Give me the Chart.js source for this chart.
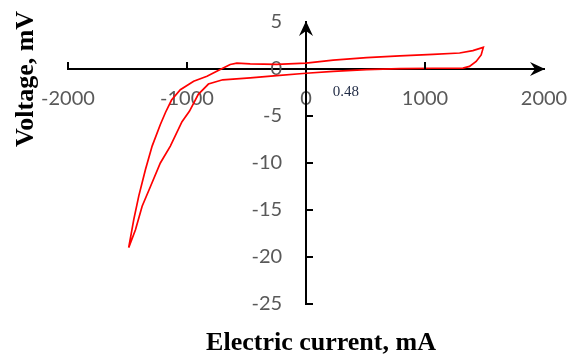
<!DOCTYPE html>
<html lang="en">
<head>
    <meta charset="UTF-8">
    <title>Voltage vs electric current</title>
    <script src="https://cdn.jsdelivr.net/npm/chart.js"></script>
    <style>
        body { margin: 0; background: #fff; }
        #loopChart { display: block; }
    </style>
    <script>
        // Loop, starting at the lower-left tip
        const currentMA = [
            -1490, -1447, -1405, -1349, -1293, -1224, -1180, -1130, -1056, -944,
            -832, -721, -637, -581, -469, -246, 0, 229, 509, 788,
            1067, 1291, 1402, 1490, 1472, 1430, 1374, 1319, 1067, 788,
            509, 229, 0, -246, -469, -700, -820, -905, -980, -1042,
            -1140, -1224, -1307, -1377, -1433, -1490
        ];
        const voltageMV = [
            -19, -16.0, -13.5, -10.7, -8.2, -5.9, -4.6, -3.3, -2.2, -1.3,
            -0.77, -0.05, 0.48, 0.62, 0.55, 0.5, 0.62, 0.95, 1.2, 1.4,
            1.55, 1.7, 1.95, 2.3, 1.5, 0.8, 0.28, 0.1, 0.08, 0.03,
            -0.07, -0.25, -0.45, -0.7, -0.95, -1.15, -1.6, -2.7, -4.5, -5.6,
            -8.2, -10.0, -12.5, -14.6, -17.1, -19
        ];
        const xTicks = [-2000, -1000, 0, 1000, 2000];
        const yTicks = [5, 0, -5, -10, -15, -20, -25];
        const note = { text: '0.48', x: 335, y: -2.9 };

        function arrowHead(ctx, x, y, dir) {
            // dir: 'right' or 'up'
            ctx.save();
            ctx.translate(x, y);
            if (dir === 'up') ctx.rotate(-Math.PI / 2);
            ctx.beginPath();
            ctx.moveTo(0, 0);
            ctx.lineTo(-15, -7);
            ctx.lineTo(-10, 0);
            ctx.lineTo(-15, 7);
            ctx.closePath();
            ctx.fillStyle = '#000';
            ctx.fill();
            ctx.restore();
        }

        const axisDecor = {
            id: 'axisDecor',
            afterDraw(chart) {
                const ctx = chart.ctx;
                const xs = chart.scales.x;
                const ys = chart.scales.y;
                const x0 = xs.getPixelForValue(0);
                const y0 = ys.getPixelForValue(0);

                ctx.save();
                ctx.strokeStyle = '#000';
                ctx.lineWidth = 2;
                ctx.beginPath();
                xTicks.slice(0, -1).forEach(v => {
                    if (v === 0) return;
                    const px = xs.getPixelForValue(v);
                    ctx.moveTo(px, y0);
                    ctx.lineTo(px, y0 - 7);
                });
                yTicks.slice(1).forEach(v => {
                    if (v === 0) return;
                    const py = ys.getPixelForValue(v);
                    ctx.moveTo(x0, py);
                    ctx.lineTo(x0 + 7, py);
                });
                ctx.stroke();

                arrowHead(ctx, xs.getPixelForValue(2000) + 1, y0, 'right');
                arrowHead(ctx, x0, ys.getPixelForValue(5) - 1, 'up');

                // annotation
                ctx.fillStyle = '#1f2a44';
                ctx.font = '15px "Liberation Serif"';
                ctx.textAlign = 'center';
                ctx.textBaseline = 'alphabetic';
                ctx.fillText(note.text, xs.getPixelForValue(note.x), ys.getPixelForValue(note.y));

                // axis titles
                ctx.fillStyle = '#000';
                ctx.font = 'bold 26px "Liberation Serif"';
                ctx.fillText('Electric current, mA', 321, 350);
                ctx.translate(33, 79);
                ctx.rotate(-Math.PI / 2);
                ctx.fillText('Voltage, mV', 0, 0);
                ctx.restore();
            }
        };

        const tickFont = { family: 'Lato', size: 20 };

        function createChart() {
            const ctx = document.getElementById('loopChart').getContext('2d');
            const points = currentMA.map((c, i) => ({ x: c, y: voltageMV[i] }));
            const yMin = yTicks[yTicks.length - 1];
            const yMax = yTicks[0];

            new Chart(ctx, {
                type: 'scatter',
                data: {
                    datasets: [{
                        data: points,
                        yAxisID: 'y',
                        showLine: true,
                        borderColor: '#ff0000',
                        borderWidth: 1.7,
                        pointRadius: 0,
                        tension: 0,
                        fill: false
                    }]
                },
                options: {
                    responsive: false,
                    animation: false,
                    devicePixelRatio: 1,
                    layout: { padding: { left: 68, right: 26, top: 22, bottom: 55 } },
                    plugins: {
                        legend: { display: false },
                        tooltip: { enabled: false }
                    },
                    scales: {
                        x: {
                            type: 'linear',
                            min: xTicks[0],
                            max: xTicks[xTicks.length - 1],
                            position: { y: 0 },
                            grid: { display: false, drawTicks: true, tickLength: 18 },
                            border: { display: true, color: '#000', width: 2 },
                            afterBuildTicks: s => { s.ticks = xTicks.map(v => ({ value: v })); },
                            ticks: {
                                font: tickFont,
                                color: '#595959',
                                padding: 0,
                                maxRotation: 0,
                                callback: v => String(v)
                            }
                        },
                        // the axis line through x = 0
                        y: {
                            type: 'linear',
                            min: yMin,
                            max: yMax,
                            position: { x: 0 },
                            grid: { display: false },
                            border: { display: true, color: '#000', width: 2 },
                            ticks: { display: false, padding: 0 }
                        },
                        // its tick labels, set a little to the left of the line
                        yLabels: {
                            type: 'linear',
                            axis: 'y',
                            min: yMin,
                            max: yMax,
                            position: { x: -201 },
                            grid: { display: false },
                            border: { display: false },
                            afterBuildTicks: s => { s.ticks = yTicks.map(v => ({ value: v })); },
                            ticks: {
                                font: tickFont,
                                color: '#595959',
                                padding: 0,
                                callback: v => String(v)
                            }
                        }
                    }
                },
                plugins: [axisDecor]
            });
        }
    </script>
</head>
<body onload="createChart()">
    <canvas id="loopChart" width="570" height="359"></canvas>
</body>
</html>
